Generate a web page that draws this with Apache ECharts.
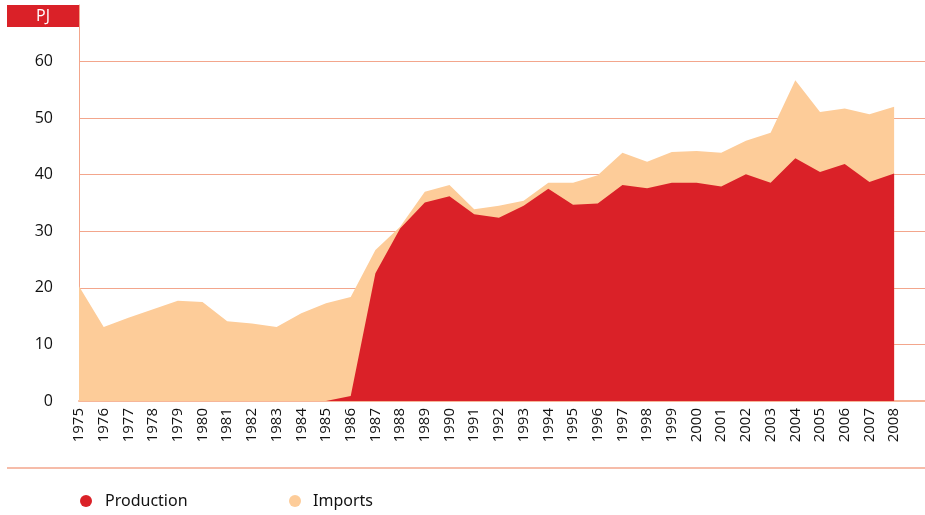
<!DOCTYPE html>
<html>
<head>
<meta charset="utf-8">
<script src="https://cdn.jsdelivr.net/npm/echarts@6/dist/echarts.min.js"></script>
<style>
  html, body { margin: 0; padding: 0; background: #fff; }
  #mychart { width: 925px; height: 515px; }
</style>
</head>
<body>
<div id="mychart"></div>
<script>
// data (PJ)
var years = [1975, 1976, 1977, 1978, 1979, 1980, 1981, 1982, 1983, 1984,
             1985, 1986, 1987, 1988, 1989, 1990, 1991, 1992, 1993, 1994,
             1995, 1996, 1997, 1998, 1999, 2000, 2001, 2002, 2003, 2004,
             2005, 2006, 2007, 2008];
var production = [0, 0, 0, 0, 0, 0, 0, 0, 0, 0,
                  0, 0.9, 22.6, 30.5, 35.1, 36.2, 33.0, 32.4, 34.5, 37.5,
                  34.7, 34.9, 38.2, 37.6, 38.6, 38.6, 37.9, 40.1, 38.6, 42.9,
                  40.5, 41.9, 38.7, 40.2];
var imports = [20.3, 13.1, 14.7, 16.2, 17.7, 17.5, 14.1, 13.7, 13.1, 15.5,
               17.3, 17.5, 4.1, 0.3, 1.9, 2.0, 0.9, 2.1, 0.9, 1.1,
               3.9, 5.0, 5.7, 4.7, 5.4, 5.6, 6.0, 5.9, 8.8, 13.8,
               10.6, 9.8, 12.0, 11.8];
var yTicks = [0, 10, 20, 30, 40, 50, 60];

var RED = '#da2128';
var PEACH = '#fdcc99';
var SALMON = '#f3a68c';

function pairs(arr) {
    var out = [];
    for (var i = 0; i < years.length; i++) out.push([years[i], arr[i]]);
    return out;
}
// imports sit on top of production
function stacked() {
    var out = [];
    for (var i = 0; i < years.length; i++) {
        out.push([years[i], Math.round((production[i] + imports[i]) * 10) / 10]);
    }
    return out;
}

var myChart = echarts.init(document.getElementById('mychart'));
var option = {
    animation: false,
    grid: { left: 79, right: 0, top: 5, bottom: 114 },
    xAxis: {
        type: 'value',
        min: 1975, max: 2009.25, interval: 1,
        axisLine: { show: true, lineStyle: { color: '#f6b699', width: 2 } },
        axisTick: { show: false },
        splitLine: { show: false },
        axisLabel: {
            rotate: 90,
            margin: 7,
            color: '#111',
            fontFamily: 'Open Sans',
            fontSize: 15,
            showMaxLabel: false,
            formatter: function (v) { return v <= 2008 ? String(v) : ''; }
        }
    },
    yAxis: {
        type: 'value',
        min: 0, max: 70, interval: 10,
        axisLine: { show: true, lineStyle: { color: SALMON, width: 1 } },
        axisTick: { show: false },
        splitLine: { show: true, showMaxLine: false, lineStyle: { color: SALMON, width: 1 } },
        axisLabel: {
            margin: 26,
            color: '#111',
            fontFamily: 'Open Sans',
            fontSize: 16,
            formatter: function (v) { return yTicks.indexOf(v) >= 0 ? String(v) : ''; }
        }
    },
    series: [
        {
            name: 'Imports',
            type: 'line',
            symbol: 'none',
            lineStyle: { width: 0 },
            areaStyle: { color: PEACH, opacity: 1 },
            itemStyle: { color: PEACH },
            data: stacked(),
            z: 2
        },
        {
            name: 'Production',
            type: 'line',
            symbol: 'none',
            lineStyle: { width: 0 },
            areaStyle: { color: RED, opacity: 1 },
            itemStyle: { color: RED },
            data: pairs(production),
            z: 3
        }
    ],
    graphic: [
        {
            type: 'rect',
            shape: { x: 7, y: 5, width: 72, height: 22 },
            style: { fill: RED }
        },
        {
            type: 'text',
            x: 43, y: 16,
            style: {
                text: 'PJ', fill: '#fff', fontFamily: 'Open Sans', fontSize: 16,
                align: 'center', verticalAlign: 'middle'
            }
        },
        {
            type: 'line',
            shape: { x1: 7, y1: 468, x2: 925, y2: 468 },
            style: { stroke: SALMON, lineWidth: 1.5 }
        },
        {
            type: 'circle',
            shape: { cx: 86, cy: 501, r: 6 },
            style: { fill: RED }
        },
        {
            type: 'text',
            x: 105, y: 501,
            style: {
                text: 'Production', fill: '#111', fontFamily: 'Noto Sans', fontSize: 16,
                verticalAlign: 'middle'
            }
        },
        {
            type: 'circle',
            shape: { cx: 295, cy: 501, r: 6 },
            style: { fill: PEACH }
        },
        {
            type: 'text',
            x: 313, y: 501,
            style: {
                text: 'Imports', fill: '#111', fontFamily: 'Noto Sans', fontSize: 16,
                verticalAlign: 'middle'
            }
        }
    ]
};
myChart.setOption(option, true);
</script>
</body>
</html>
